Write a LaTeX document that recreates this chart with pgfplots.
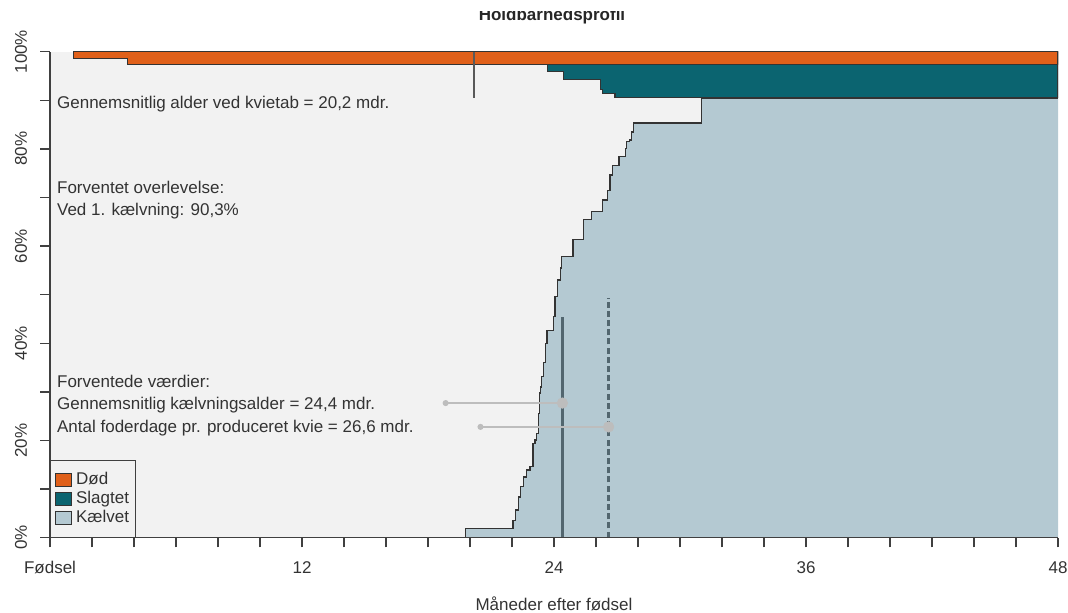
\documentclass[border=0pt]{standalone}
\usepackage{fontspec}
\setmainfont{Liberation Sans}
\usepackage{pgfplots}
\pgfplotsset{compat=1.18}
\usepackage{pgfplotstable}

\definecolor{doed}{HTML}{E0601A}
\definecolor{slagt}{HTML}{0B6470}
\definecolor{kaelv}{HTML}{B4C9D2}
\definecolor{bg}{HTML}{F2F2F2}
\definecolor{edge}{HTML}{333333}
\definecolor{ink}{HTML}{333333}
\definecolor{refl}{HTML}{52666F}
\definecolor{conn}{HTML}{BDBDBD}
\newcommand\rf{\fontsize{8.5}{10}\selectfont}

% andel kaelvet (%) efter alder i mdr.
\pgfplotstableread{
x y
19.6 0
19.8 1.9
22.05 3.6
22.15 5.7
22.3 8.4
22.4 10.5
22.55 12.5
22.7 13.9
22.85 14.6
23.0 19.4
23.1 20.1
23.18 21.5
23.25 25.6
23.3 29.8
23.35 31
23.42 33.1
23.5 36
23.58 40
23.66 42.7
23.97 45.5
24.05 49.6
24.15 53
24.3 55.5
24.37 57.8
24.9 61.3
25.4 65.4
25.8 67.1
26.3 69.5
26.55 71.5
26.67 74.6
26.8 76.6
27.1 78.4
27.4 80.1
27.46 81.5
27.6 81.8
27.7 83.5
27.8 85.3
31.03 90.5
48 90.5
}\kaelvet

\begin{document}
\begin{tikzpicture}
\begin{axis}[
  at={(0,0)}, anchor=south west,
  scale only axis, width=504pt, height=243pt,
  xmin=0, xmax=48, ymin=0, ymax=100,
  axis lines=left,
  axis line style={-, draw=black!75, line width=0.7pt},
  axis on top,
  axis background/.style={fill=bg},
  tick align=outside, major tick length=4.8pt,
  tick style={black!75, line width=0.7pt},
  xtick={0,2,...,48},
  xticklabels={Fødsel,,,,,,12,,,,,,24,,,,,,36,,,,,,48},
  ytick={0,10,...,100},
  yticklabels={0\%,,20\%,,40\%,,60\%,,80\%,,100\%},
  tick label style={font=\rf, text=ink},
  xticklabel style={anchor=base, inner sep=0pt},
  xticklabel shift=13pt,
  yticklabel style={rotate=90, anchor=base, inner sep=0pt},
  yticklabel shift=6.8pt,
  xlabel={Måneder efter fødsel},
  xlabel style={font=\rf, text=ink, at={(axis description cs:0.5,0)}, anchor=base, yshift=-36.6pt},
  legend style={at={(0,0)}, anchor=south west, draw=black!75, line width=0.5pt,
    fill=bg, font=\rf, inner xsep=2pt, inner ysep=4.9pt, row sep=0pt, column sep=1pt,
    nodes={inner sep=1pt, text height=6pt, text depth=1.5pt, text=ink}},
  legend cell align=left,
  legend image code/.code={\draw[#1,draw=edge,line width=0.5pt] (0pt,-3.1pt) rectangle (8.3pt,3.1pt);},
]
% Kaelvet
\addplot[const plot, fill=kaelv, draw=none, forget plot] table {\kaelvet} \closedcycle;
\addplot[const plot, draw=edge, line width=0.65pt, forget plot] table {\kaelvet};
% Slagtet
\addplot[fill=slagt, draw=edge, line width=0.6pt, forget plot] coordinates {
  (23.7,100) (23.7,95.9) (24.45,95.9) (24.45,94.2) (26.2,94.2) (26.2,92.3)
  (26.3,92.3) (26.3,91.4) (26.9,91.4) (26.9,90.5) (48,90.5) (48,100)} -- cycle;
% Doed
\addplot[fill=doed, draw=edge, line width=0.6pt, forget plot] coordinates {
  (1.1,100) (1.1,98.6) (3.7,98.6) (3.7,97.4) (48,97.4) (48,100)} -- cycle;

% gennemsnitlig alder ved kvietab
\addplot[black!65, line width=0.8pt, forget plot] coordinates {(20.2,90.5) (20.2,100)};
% forventede vaerdier
\addplot[refl, line width=1.3pt, forget plot] coordinates {(24.4,0) (24.4,45.5)};
\addplot[refl, line width=1.3pt, dash pattern=on 3pt off 1.6pt, forget plot] coordinates {(26.6,0) (26.6,49.3)};
\addplot[conn, line width=0.75pt, forget plot] coordinates {(18.84,27.7) (24.4,27.7)};
\addplot[conn, line width=0.75pt, forget plot] coordinates {(20.5,22.8) (26.6,22.8)};
\addplot[only marks, mark=*, mark size=1.3pt, mark options={draw=conn, fill=conn}, forget plot]
  coordinates {(18.84,27.7) (20.5,22.8)};
\addplot[only marks, mark=*, mark size=2.6pt, mark options={draw=conn, fill=conn}, forget plot]
  coordinates {(24.4,27.7) (26.6,22.8)};

\addlegendimage{fill=doed}
\addlegendentry{Død}
\addlegendimage{fill=slagt}
\addlegendentry{Slagtet}
\addlegendimage{fill=kaelv}
\addlegendentry{Kælvet}

\begin{scope}[every node/.style={anchor=base west, inner sep=0pt, font=\rf, text=ink}]
\node at (axis cs:0.32,88.4) {Gennemsnitlig alder ved kvietab = 20,2 mdr.};
\node at (axis cs:0.32,70.8) {Forventet overlevelse:};
\node at (axis cs:0.32,66.2) {Ved 1. kælvning: 90,3\%};
\node at (axis cs:0.32,30.9) {Forventede værdier:};
\node at (axis cs:0.32,26.4) {Gennemsnitlig kælvningsalder = 24,4 mdr.};
\node at (axis cs:0.32,21.6) {Antal foderdage pr. produceret kvie = 26,6 mdr.};
\end{scope}
\end{axis}

\begin{scope}
\clip (-25pt,-37.65pt) rectangle (509pt,263pt);
\node[anchor=base, inner sep=0pt, font=\bfseries\rf, text=black!85] at (251pt,258.5pt) {Holdbarhedsprofil};
\end{scope}
\pgfresetboundingbox
\path[use as bounding box] (-25pt,-37.65pt) rectangle (509pt,268.85pt);
\end{tikzpicture}
\end{document}
